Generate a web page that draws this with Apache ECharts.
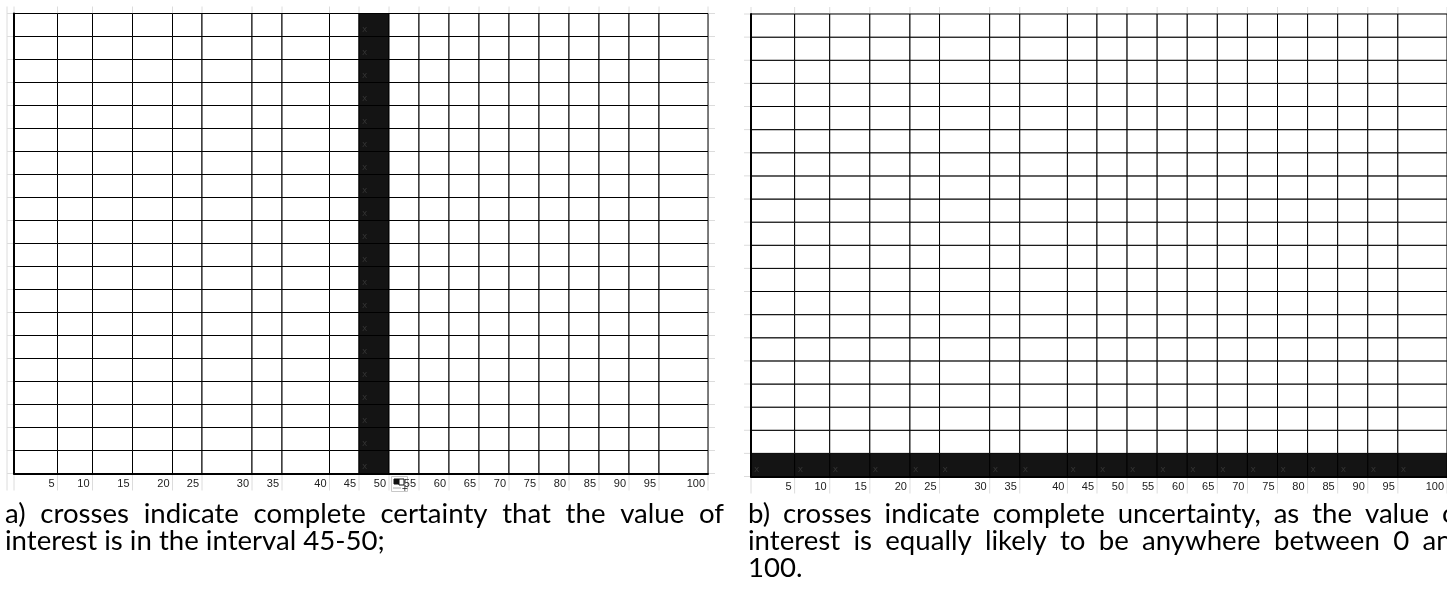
<!DOCTYPE html>
<html>
<head>
<meta charset="utf-8">
<script src="https://cdn.jsdelivr.net/npm/echarts@6/dist/echarts.min.js"></script>
<style>
html, body { margin: 0; padding: 0; background: #fff; }
#container { width: 1447px; height: 611px; }
</style>
</head>
<body>
<div id="container"></div>
<script>
// bins of the value of interest (upper bound of each 5-wide interval)
var binLabels = ['5', '10', '15', '20', '25', '30', '35', '40', '45', '50', '55', '60', '65', '70', '75', '80', '85', '90', '95', '100'];
// number of crosses in each bin
var crossesA = [0, 0, 0, 0, 0, 0, 0, 0, 0, 20, 0, 0, 0, 0, 0, 0, 0, 0, 0, 0];
var crossesB = [1, 1, 1, 1, 1, 1, 1, 1, 1, 1, 1, 1, 1, 1, 1, 1, 1, 1, 1, 1];
var rowCount = 20;
var captionA = ['a) crosses indicate complete certainty that the value of', 'interest is in the interval 45-50;'];
var captionB = ['b) crosses indicate complete uncertainty, as the value of', 'interest is equally likely to be anywhere between 0 and', '100.'];

// spreadsheet column widths (px) - layout only
var colWidths = [43.5, 35, 40, 40, 29.5, 50, 30, 47.5, 29.5, 30, 30, 30, 30, 30, 30, 30, 30, 30, 30, 49];
var colEdges = [0];
for (var i = 0; i < colWidths.length; i++) {
	colEdges.push(colEdges[i] + colWidths[i]);
}
var totalWidth = colEdges[colEdges.length - 1];

var captionFont = 'Lato, "Open Sans", sans-serif';
var measureCtx = document.createElement('canvas').getContext('2d');
function textWidth(s, size) {
	measureCtx.font = size + 'px ' + captionFont;
	return measureCtx.measureText(s).width;
}
// size the caption font so the short line spans as in the original
var captionSize = Math.round(30 * 380 / textWidth(captionA[1], 30) * 10) / 10;

function cellData(crosses) {
	var d = [];
	for (var i = 0; i < crosses.length; i++) {
		for (var r = 0; r < rowCount; r++) {
			d.push([i, r, crosses[i]]);
		}
	}
	return d;
}
function sheetData() {
	var d = [];
	for (var k = 0; k <= rowCount; k++) d.push([k, k]);
	return d;
}

function renderCell(params, api) {
	var i = api.value(0), r = api.value(1), n = api.value(2);
	var p0 = api.coord([colEdges[i], r]);
	var p1 = api.coord([colEdges[i + 1], r + 1]);
	var filled = r < n;
	var children = [{
		type: 'rect',
		shape: { x: p0[0], y: p1[1], width: p1[0] - p0[0], height: p0[1] - p1[1] },
		style: { fill: filled ? '#141414' : '#fff', stroke: '#000', lineWidth: 1 }
	}];
	if (filled) {
		children.push({
			type: 'text',
			style: { text: 'x', x: p0[0] + 3, y: p0[1] - 2, align: 'left', verticalAlign: 'bottom',
				font: '9px "DejaVu Sans"', fill: '#333' }
		});
	}
	if (r === 0) {
		children.push({
			type: 'text',
			style: { text: binLabels[i], x: p1[0] - 3, y: p0[1] + 10, align: 'right', verticalAlign: 'middle',
				font: '11px "Liberation Sans"', fill: '#222' }
		});
	}
	return { type: 'group', children: children };
}

function renderSheet(params, api) {
	var k = api.value(0);
	var top = api.coord([0, rowCount])[1];
	var bottom = api.coord([0, 0])[1];
	var left = api.coord([0, 0])[0];
	var right = api.coord([totalWidth, 0])[0];
	var x = api.coord([colEdges[k], 0])[0];
	var y = api.coord([0, k])[1];
	var children = [
		{ type: 'line', shape: { x1: x, y1: top - 7, x2: x, y2: bottom + 17 }, style: { stroke: '#dcdcdc', lineWidth: 1 } },
		{ type: 'line', shape: { x1: left - 7, y1: y, x2: right + 7, y2: y }, style: { stroke: '#dcdcdc', lineWidth: 1 } }
	];
	if (k === 0 && params.seriesIndex === 0) {
		children.push({ type: 'line', shape: { x1: left - 7, y1: top - 7, x2: left - 7, y2: bottom + 17 }, style: { stroke: '#dcdcdc', lineWidth: 1 } });
	}
	return { type: 'group', children: children };
}

function captionElements(lines, x0, y0, width) {
	var els = [];
	var lineGap = 27;
	for (var k = 0; k < lines.length; k++) {
		var y = y0 + k * lineGap;
		var words = lines[k].split(' ');
		var last = k === lines.length - 1;
		if (last) {
			els.push({ type: 'text', x: x0, y: y, style: { text: lines[k], font: captionSize + 'px ' + captionFont, fill: '#000', verticalAlign: 'middle' } });
			continue;
		}
		var sum = 0;
		for (var w = 0; w < words.length; w++) sum += textWidth(words[w], captionSize);
		var gap = (width - sum) / (words.length - 1);
		var x = x0;
		for (var w = 0; w < words.length; w++) {
			els.push({ type: 'text', x: x, y: y, style: { text: words[w], font: captionSize + 'px ' + captionFont, fill: '#000', verticalAlign: 'middle' } });
			x += textWidth(words[w], captionSize) + gap;
		}
	}
	return els;
}

function axisPair(gridIndex) {
	return {
		x: {
			type: 'value', gridIndex: gridIndex, min: 0, max: totalWidth, z: 5,
			axisLine: { show: true, lineStyle: { color: '#000', width: 2 } },
			axisTick: { show: false }, axisLabel: { show: false }, splitLine: { show: false }
		},
		y: {
			type: 'value', gridIndex: gridIndex, min: 0, max: rowCount, z: 5,
			axisLine: { show: true, lineStyle: { color: '#000', width: 2 } },
			axisTick: { show: false }, axisLabel: { show: false }, splitLine: { show: false }
		}
	};
}
var axesA = axisPair(0), axesB = axisPair(1);

var graphics = captionElements(captionA, 5, 514, 719)
	.concat(captionElements(captionB, 748, 514, 719));
// paste options marker below the grid
graphics.push({
	type: 'group', left: 391, top: 476, children: [
		{ type: 'rect', shape: { x: 0, y: 0, width: 16, height: 15 }, style: { fill: '#fff', stroke: '#c8c8c8' } },
		{ type: 'rect', shape: { x: 2.5, y: 2.5, width: 5, height: 5 }, style: { fill: '#111', stroke: '#111' } },
		{ type: 'rect', shape: { x: 7.5, y: 2.5, width: 5, height: 6 }, style: { fill: '#fff', stroke: '#111' } },
		{ type: 'line', shape: { x1: 2, y1: 11.5, x2: 10, y2: 11.5 }, style: { stroke: '#555', lineDash: [1, 1] } },
		{ type: 'text', style: { text: '+', x: 10, y: 8, font: '8px "DejaVu Sans"', fill: '#111' } }
	]
});

var chart = echarts.init(document.getElementById('container'));
chart.setOption({
	animation: false,
	backgroundColor: '#fff',
	grid: [
		{ left: 14, top: 13.5, width: 694, height: 460 },
		{ left: 751, top: 14, width: 698, height: 462.5 }
	],
	xAxis: [axesA.x, axesB.x],
	yAxis: [axesA.y, axesB.y],
	series: [
		{ type: 'custom', name: 'sheetA', xAxisIndex: 0, yAxisIndex: 0, z: 1, silent: true, renderItem: renderSheet, data: sheetData() },
		{ type: 'custom', name: 'sheetB', xAxisIndex: 1, yAxisIndex: 1, z: 1, silent: true, renderItem: renderSheet, data: sheetData() },
		{ type: 'custom', name: 'certain', xAxisIndex: 0, yAxisIndex: 0, z: 2, renderItem: renderCell, data: cellData(crossesA) },
		{ type: 'custom', name: 'uncertain', xAxisIndex: 1, yAxisIndex: 1, z: 2, renderItem: renderCell, data: cellData(crossesB) }
	],
	graphic: graphics
});
</script>
</body>
</html>
